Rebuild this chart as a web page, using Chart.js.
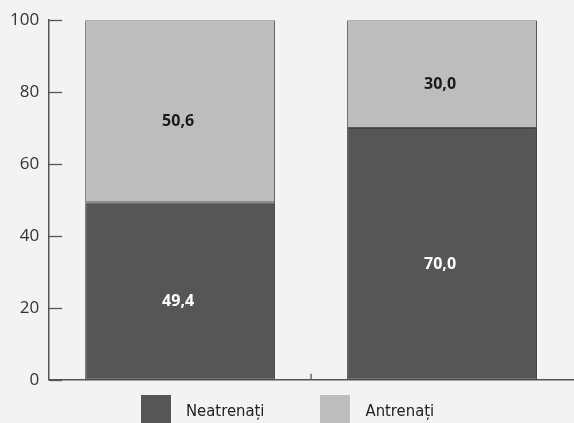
<!DOCTYPE html>
<html>
<head>
<meta charset="utf-8">
<script src="https://cdn.jsdelivr.net/npm/chart.js@4/dist/chart.umd.min.js"></script>
<style>
  html, body { margin: 0; padding: 0; background: #f3f3f3; overflow: hidden; }
  #wrap { position: relative; width: 574px; height: 423px; }
  #zona { position: absolute; left: 0; top: 0; width: 574px; height: 400px; }
  #legenda { position: absolute; left: 141px; top: 395px; display: flex; align-items: flex-start;
             font-family: "DejaVu Sans Condensed", "DejaVu Sans"; font-size: 16.5px; color: #222; }
  .item { display: flex; align-items: center; }
  .cutie { width: 30px; height: 30px; margin-right: 15px; }
</style>
</head>
<body>
<div id="wrap">
  <div id="zona"><canvas id="grafic"></canvas></div>
  <div id="legenda"></div>
</div>
<script>
// ========== DATE ==========
const grupuri = ['Grupul 1', 'Grupul 2'];
const neatrenati = [49.4, 70.0];
const antrenati = [50.6, 30.0];
const etichetaSerii = ['Neatrenați', 'Antrenați'];
const valoriAxaY = [0, 20, 40, 60, 80, 100];

const culoareInchisa = '#565656';
const culoareDeschisa = '#bdbdbd';

function formatVirgula(v) {
    return v.toFixed(1).replace('.', ',');
}

// ticks spre interior + etichete valori
const pluginDesen = {
    id: 'pluginDesen',
    afterDatasetsDraw(chart) {
        const ctx = chart.ctx;
        const x = chart.scales.x;
        const y = chart.scales.y;
        ctx.save();
        ctx.strokeStyle = '#555';
        ctx.lineWidth = 1.3;
        valoriAxaY.forEach(function(v) {
            const py = Math.round(y.getPixelForValue(v)) + 0.5;
            ctx.beginPath();
            ctx.moveTo(x.left, py);
            ctx.lineTo(x.left + 13, py);
            ctx.stroke();
        });
        // tick intre categorii
        const mijloc = (x.getPixelForValue(0) + x.getPixelForValue(1)) / 2;
        ctx.beginPath();
        ctx.moveTo(mijloc, y.bottom);
        ctx.lineTo(mijloc, y.bottom - 6);
        ctx.stroke();

        ctx.font = 'bold 16px "Open Sans"';
        ctx.textAlign = 'center';
        ctx.textBaseline = 'middle';
        chart.data.datasets.forEach(function(ds, i) {
            const meta = chart.getDatasetMeta(i);
            meta.data.forEach(function(bar, j) {
                const mij = (bar.y + bar.base) / 2 + 10;
                ctx.fillStyle = i === 0 ? '#ffffff' : '#1a1a1a';
                ctx.fillText(formatVirgula(ds.data[j]), bar.x - 2, mij);
            });
        });
        ctx.restore();
    }
};

const grafic = new Chart(document.getElementById('grafic').getContext('2d'), {
    type: 'bar',
    data: {
        labels: grupuri,
        datasets: [
            {
                label: etichetaSerii[0],
                data: neatrenati,
                backgroundColor: culoareInchisa,
                borderColor: '#444',
                borderWidth: 1,
                borderSkipped: false,
                barPercentage: 0.725,
                categoryPercentage: 1
            },
            {
                label: etichetaSerii[1],
                data: antrenati,
                backgroundColor: culoareDeschisa,
                borderColor: '#555',
                borderWidth: 1,
                borderSkipped: false,
                barPercentage: 0.725,
                categoryPercentage: 1
            }
        ]
    },
    options: {
        responsive: true,
        maintainAspectRatio: false,
        animation: false,
        layout: { padding: { left: 0, right: 1, top: 16, bottom: 3 } },
        plugins: {
            legend: { display: false },
            tooltip: { enabled: false }
        },
        scales: {
            x: {
                stacked: true,
                grid: { display: false, drawTicks: false },
                border: { display: true, color: '#555', width: 1.5 },
                ticks: { display: false }
            },
            y: {
                stacked: true,
                min: 0,
                max: 100,
                grid: { display: false, drawTicks: false },
                border: { display: true, color: '#555', width: 1.5 },
                ticks: {
                    stepSize: 20,
                    padding: 10,
                    color: '#333',
                    font: { size: 17, family: '"Open Sans"' }
                }
            }
        }
    },
    plugins: [pluginDesen]
});

// legenda HTML din seturile de date
const legenda = document.getElementById('legenda');
grafic.data.datasets.forEach(function(ds, i) {
    const item = document.createElement('div');
    item.className = 'item';
    if (i > 0) item.style.marginLeft = '56px';
    const cutie = document.createElement('span');
    cutie.className = 'cutie';
    cutie.style.background = ds.backgroundColor;
    const text = document.createElement('span');
    text.textContent = ds.label;
    item.appendChild(cutie);
    item.appendChild(text);
    legenda.appendChild(item);
});
</script>
</body>
</html>
